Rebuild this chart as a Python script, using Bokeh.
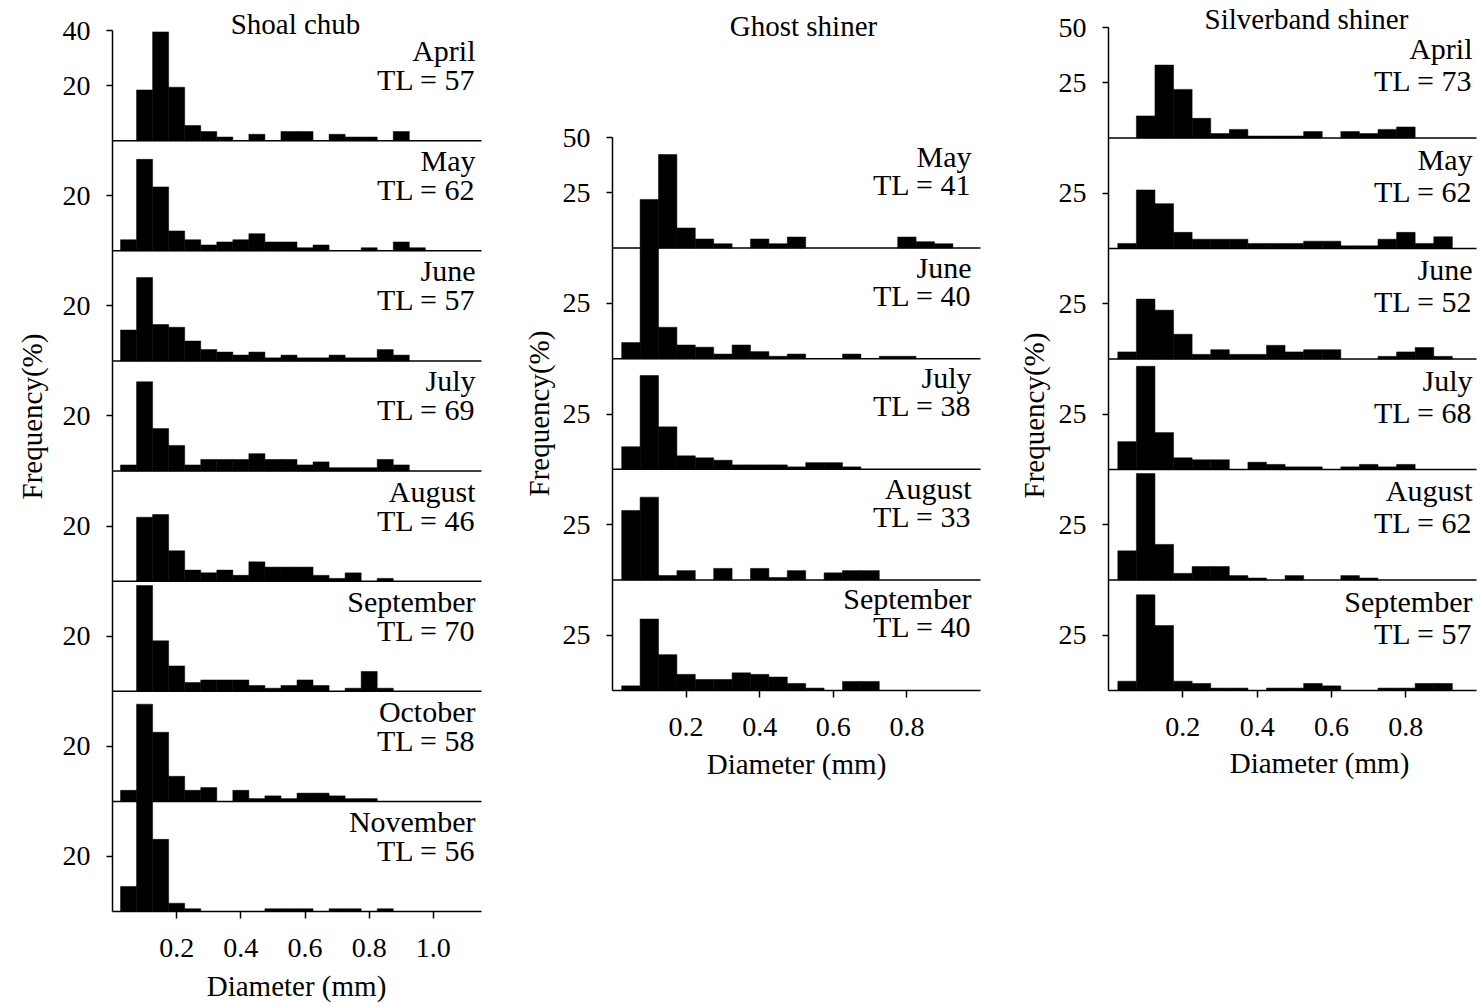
import math
from bokeh.plotting import figure
from bokeh.models import Range1d, FixedTicker, Label, ColumnDataSource
from bokeh.layouts import row
from bokeh.embed import file_html
from bokeh.resources import INLINE

# ---------------- data ----------------
bin_centers = [0.05, 0.10, 0.15, 0.20, 0.25, 0.30, 0.35, 0.40, 0.45, 0.50,
               0.55, 0.60, 0.65, 0.70, 0.75, 0.80, 0.85, 0.90, 0.95]

# Shoal chub (% frequency per 0.05 mm diameter bin)
shoal_months = ["April", "May", "June", "July", "August", "September", "October", "November"]
shoal_tl = [57, 62, 57, 69, 46, 70, 58, 56]
shoal_april = [0, 18.4, 39.5, 19.4, 5.5, 3.3, 1.3, 0, 2.3, 0, 3.3, 3.3, 0, 2.3, 1.3, 1.3, 0, 3.3, 0]
shoal_may = [4.0, 33.2, 23.2, 7.2, 4.0, 2.1, 3.2, 4.0, 6.2, 3.2, 3.2, 1.1, 2.1, 0, 0, 1.1, 0, 3.2, 1.1]
shoal_june = [11.2, 30.3, 13.2, 12.2, 7.2, 4.1, 3.2, 2.1, 3.2, 1.1, 2.1, 1.1, 1.1, 2.1, 1.1, 1.1, 4.1, 2.1, 0]
shoal_july = [2.2, 32.4, 15.4, 9.3, 2.2, 4.2, 4.2, 4.2, 6.3, 4.2, 4.2, 2.2, 3.3, 1.2, 1.2, 1.2, 4.2, 2.2, 0]
shoal_august = [0, 23.2, 24.2, 11.0, 4.0, 3.0, 4.0, 2.1, 7.0, 5.1, 5.1, 5.1, 2.1, 1.0, 3.0, 0, 1.0, 0, 0]
shoal_september = [0, 38.4, 18.3, 9.2, 3.2, 4.1, 4.1, 4.1, 2.1, 1.1, 2.1, 4.1, 2.1, 0, 1.1, 7.2, 1.1, 0, 0]
shoal_october = [4.0, 35.3, 25.1, 9.1, 4.0, 5.0, 0, 4.0, 1.0, 2.0, 1.0, 3.0, 3.0, 2.0, 1.0, 1.0, 0, 0, 0]
shoal_november = [9.1, 40.0, 26.2, 3.0, 1.0, 0, 0, 0, 0, 1.0, 1.0, 1.0, 0, 1.0, 1.0, 0, 1.0, 0, 0]

# Ghost shiner
ghost_months = ["May", "June", "July", "August", "September"]
ghost_tl = [41, 40, 38, 33, 40]
ghost_may = [0, 22.0, 42.3, 9.1, 4.1, 2.0, 0, 4.1, 2.0, 5.0, 0, 0, 0, 0, 0, 5.0, 2.9, 2.0, 0]
ghost_june = [7.3, 50.0, 14.2, 6.2, 5.2, 2.1, 6.2, 3.2, 1.1, 2.1, 0, 0, 2.1, 0, 1.1, 1.1, 0, 0, 0]
ghost_july = [10.2, 42.4, 19.2, 6.1, 5.2, 4.1, 2.0, 2.0, 2.0, 1.1, 3.0, 3.0, 1.1, 0, 0, 0, 0, 0, 0]
ghost_august = [31.4, 37.4, 2.0, 4.2, 0, 5.2, 0, 5.2, 1.1, 4.2, 0, 3.2, 4.2, 4.2, 0, 0, 0, 0, 0]
ghost_september = [2.1, 32.3, 16.2, 7.3, 5.0, 5.0, 8.0, 7.3, 6.1, 3.2, 1.1, 0, 4.1, 4.1, 0, 0, 0, 0, 0]

# Silverband shiner
silver_months = ["April", "May", "June", "July", "August", "September"]
silver_tl = [73, 62, 52, 68, 62, 57]
silver_april = [0, 10.0, 33.0, 22.0, 8.9, 2.0, 3.9, 0.9, 0.9, 0.9, 2.9, 0, 2.9, 2.0, 3.9, 5.0, 0, 0, 0]
silver_may = [2.3, 26.5, 20.3, 7.3, 4.2, 4.2, 4.2, 2.3, 2.3, 2.3, 3.3, 3.3, 1.2, 1.2, 4.2, 7.3, 2.3, 5.3, 0]
silver_june = [3.2, 27.1, 22.1, 11.2, 2.1, 4.2, 2.1, 2.1, 6.2, 3.2, 4.2, 4.2, 0, 0, 1.2, 3.2, 5.2, 1.2, 0]
silver_july = [12.6, 46.7, 16.7, 5.3, 4.4, 4.4, 0, 3.3, 2.3, 1.2, 1.2, 0, 1.2, 2.3, 1.2, 2.3, 0, 0, 0]
silver_august = [13.2, 48.2, 16.1, 3.0, 6.1, 6.1, 2.0, 0.9, 0, 2.0, 0, 0, 2.0, 0.9, 0, 0, 0, 0, 0]
silver_september = [4.2, 43.3, 29.4, 4.2, 3.2, 1.1, 1.1, 0, 1.1, 1.1, 3.2, 2.1, 0, 0, 1.1, 1.1, 3.2, 3.2, 0]

# axis ticks
shoal_xticks = [0.2, 0.4, 0.6, 0.8, 1.0]
shoal_xtick_labels = ["0.2", "0.4", "0.6", "0.8", "1.0"]
other_xticks = [0.2, 0.4, 0.6, 0.8]
other_xtick_labels = ["0.2", "0.4", "0.6", "0.8"]
shoal_yticks = [20, 40]
ghost_yticks = [25, 50]
silver_yticks = [25, 50]

FONT = "Liberation Serif"
TICK_FS = "28px"
PANEL_FS = "30px"
TITLE_FS = "29px"
INK = "black"
BASE_SHIFT = 10  # rendered alphabetic baseline sits lower than requested


def make_column(title, months, tls, series, ymax, yticks, x_end, xticks, xlabels, g):
    n = len(series)
    ytot = n * ymax
    x0, W, H = g["x0"], g["W"], g["H"]
    ax, ar, yb, yt = g["ax"], g["ar"], g["yb"], g["yt"]
    panel_h = (yb - yt) / n

    def xd(px):
        return (px - ax) * x_end / (ar - ax)

    def yd(py):
        return (yb - py) * ytot / (yb - yt)

    def yt_(py):  # text baseline position
        return yd(py - BASE_SHIFT)

    p = figure(width=W, height=H,
               x_range=Range1d(xd(x0), xd(x0 + W)), y_range=Range1d(yd(H), yd(0)),
               output_backend="svg", toolbar_location=None,
               min_border_left=0, min_border_right=0,
               min_border_top=0, min_border_bottom=0)
    p.outline_line_color = None
    p.xgrid.visible = False
    p.ygrid.visible = False
    p.background_fill_color = "white"
    p.border_fill_color = "white"

    # y axis: one continuous line at x = 0, ticks per panel
    ticks, overrides = [], {}
    for i in range(n):
        base = (n - 1 - i) * ymax
        pt = yticks if i == 0 else yticks[:1]
        for t in pt:
            ticks.append(base + t)
            overrides[base + t] = str(t)
    ya = p.yaxis[0]
    ya.fixed_location = 0
    ya.bounds = (0, ytot)
    ya.ticker = FixedTicker(ticks=ticks)
    ya.major_label_overrides = overrides
    ya.major_tick_out = 6
    ya.major_tick_in = 0
    ya.minor_tick_out = 0
    ya.minor_tick_in = 0
    ya.axis_line_width = 1.5
    ya.axis_line_color = INK
    ya.major_tick_line_width = 1.5
    ya.major_tick_line_color = INK
    ya.major_label_text_font = FONT
    ya.major_label_text_font_size = TICK_FS
    ya.major_label_text_color = INK
    ya.major_label_standoff = 16

    xa = p.xaxis[0]
    xa.fixed_location = 0
    xa.bounds = (0, x_end)
    xa.ticker = FixedTicker(ticks=xticks)
    xa.major_label_overrides = {t: l for t, l in zip(xticks, xlabels)}
    xa.major_tick_out = 7
    xa.major_tick_in = 0
    xa.minor_tick_out = 0
    xa.minor_tick_in = 0
    xa.axis_line_width = 1.5
    xa.axis_line_color = INK
    xa.major_tick_line_width = 1.5
    xa.major_tick_line_color = INK
    xa.major_label_text_font = FONT
    xa.major_label_text_font_size = TICK_FS
    xa.major_label_text_color = INK
    xa.major_label_standoff = 20

    # panel baselines (the lowest one is the x axis)
    base_y = [(n - 1 - i) * ymax for i in range(n - 1)]
    p.segment(x0=[0] * len(base_y), x1=[x_end] * len(base_y), y0=base_y, y1=base_y,
              line_color=INK, line_width=1.5)

    for i in range(n):
        name = "panel%d" % i
        p.extra_y_ranges[name] = Range1d(yd(H) - (n - 1 - i) * ymax,
                                         yd(0) - (n - 1 - i) * ymax)
        vals = series[i]
        xs = [c for c, v in zip(bin_centers, vals) if v > 0]
        vs = [v for v in vals if v > 0]
        src = ColumnDataSource(dict(x=xs, top=vs))
        p.vbar(x="x", top="top", bottom=0, width=0.05, source=src,
               y_range_name=name, fill_color=INK, line_color=INK, line_width=0.5)
        ptop = yt + i * panel_h
        p.add_layout(Label(x=xd(ar - g["tc"]), y=yt_(ptop + g["ta"]), text=months[i],
                           text_align="right", text_baseline="alphabetic", text_color=INK,
                           text_font=FONT, text_font_size=PANEL_FS))
        p.add_layout(Label(x=xd(ar - g["tc"]), y=yt_(ptop + g["tb"]),
                           text="TL = %d" % tls[i], text_color=INK,
                           text_align="right", text_baseline="alphabetic",
                           text_font=FONT, text_font_size=PANEL_FS))

    tx, ty = g["title"]
    p.add_layout(Label(x=xd(tx), y=yt_(ty), text=title, text_align="center", text_color=INK,
                       text_baseline="alphabetic", text_font=FONT, text_font_size=TITLE_FS))
    fx, fy = g["ylab"]
    p.add_layout(Label(x=xd(fx), y=yd(fy), text="Frequency(%)", angle=math.pi / 2,
                       text_align="center", text_baseline="middle", text_color=INK,
                       text_font=FONT, text_font_size=TITLE_FS))
    dx, dy = g["xlab"]
    p.add_layout(Label(x=xd(dx), y=yt_(dy), text="Diameter (mm)", text_align="center",
                       text_color=INK, text_baseline="alphabetic", text_font=FONT,
                       text_font_size=TITLE_FS))
    return p


# layout geometry in page pixels (figure origin x0; axis x, right end, baseline y, top y)
geo_left = dict(x0=0, W=500, H=1003, ax=112, ar=481, yb=911, yt=30,
                ta=30, tb=59, tc=6, title=(295, 33), ylab=(31, 416), xlab=(296, 995))
geo_mid = dict(x0=500, W=500, H=1003, ax=612, ar=980, yb=690, yt=137,
               ta=29, tb=57, tc=9, title=(803, 35), ylab=(538, 413), xlab=(796, 773))
geo_right = dict(x0=1000, W=480, H=1003, ax=1108, ar=1476, yb=690, yt=27,
                 ta=31, tb=63, tc=4, title=(1306, 28), ylab=(1033, 415), xlab=(1319, 772))

p1 = make_column("Shoal chub", shoal_months, shoal_tl,
                 [shoal_april, shoal_may, shoal_june, shoal_july, shoal_august,
                  shoal_september, shoal_october, shoal_november],
                 40, shoal_yticks, 1.15, shoal_xticks, shoal_xtick_labels, geo_left)
p2 = make_column("Ghost shiner", ghost_months, ghost_tl,
                 [ghost_may, ghost_june, ghost_july, ghost_august, ghost_september],
                 50, ghost_yticks, 1.0, other_xticks, other_xtick_labels, geo_mid)
p3 = make_column("Silverband shiner", silver_months, silver_tl,
                 [silver_april, silver_may, silver_june, silver_july, silver_august,
                  silver_september],
                 50, silver_yticks, 0.99, other_xticks, other_xtick_labels, geo_right)

layout = row(p1, p2, p3)
open("out.html", "w").write(file_html(layout, INLINE))
